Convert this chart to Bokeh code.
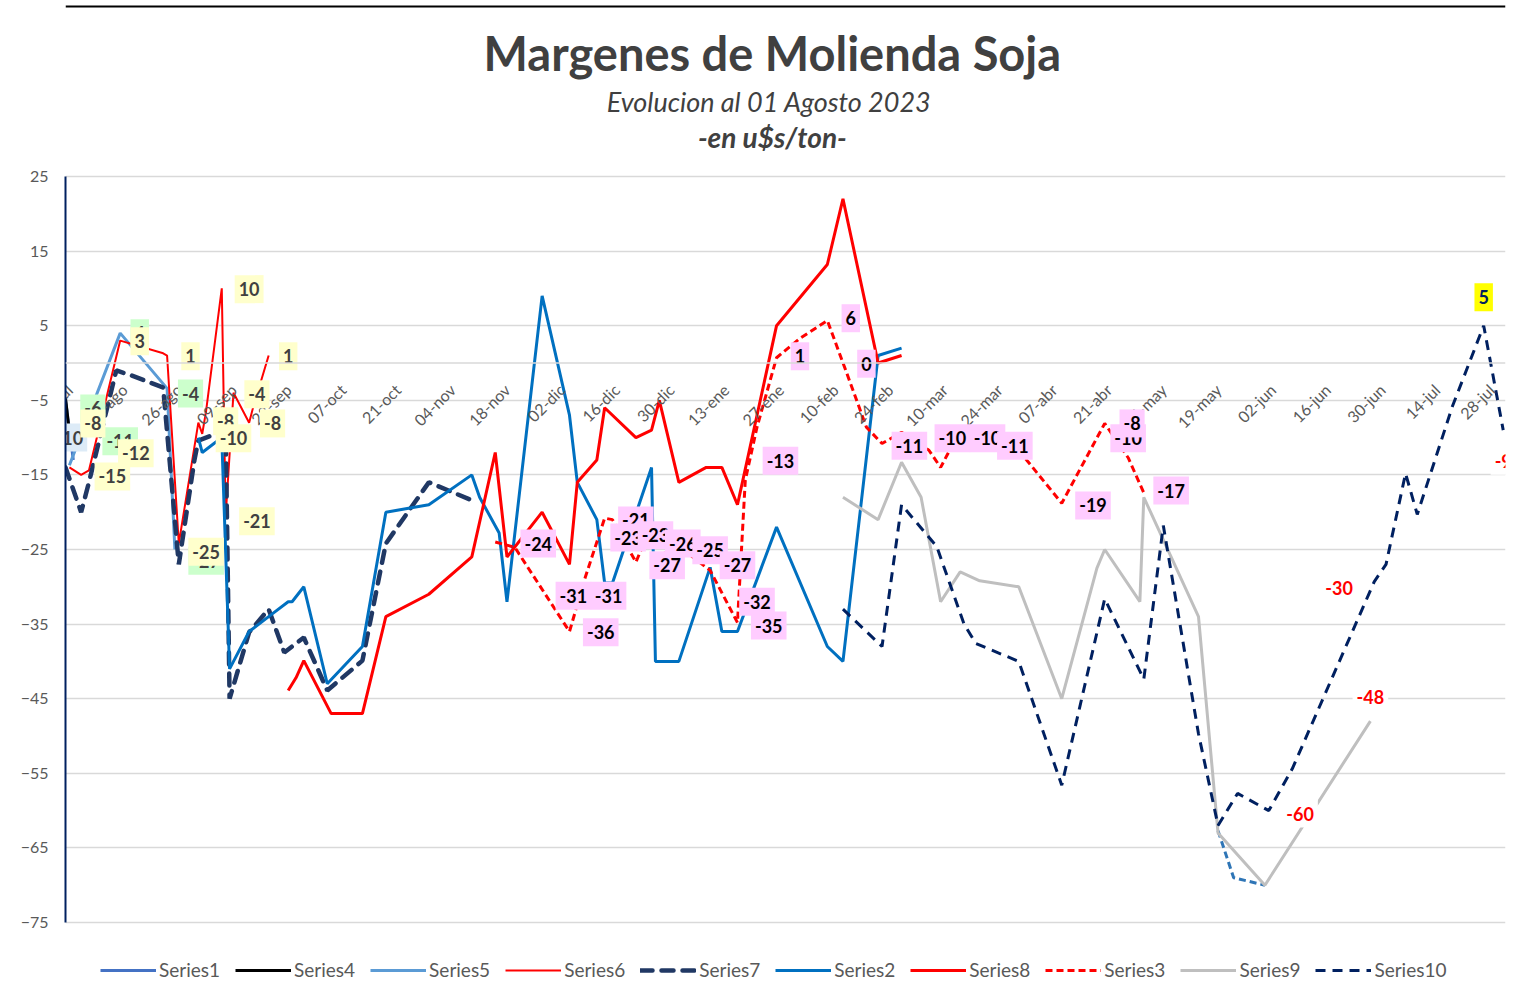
import math
import datetime as dt
from bokeh.plotting import figure
from bokeh.models import ColumnDataSource, FixedTicker, Legend, LegendItem, Span
from bokeh.core.properties import value
from bokeh.embed import file_html
from bokeh.resources import INLINE

FONT = "Lato"

# ---------------- data ----------------
title_text = ["Margenes de Molienda Soja", "Evolucion  al 01 Agosto 2023", "-en u$s/ton-"]

tick_dates = ["2022-07-29", "2022-08-12", "2022-08-26", "2022-09-09", "2022-09-23", "2022-10-07",
              "2022-10-21", "2022-11-04", "2022-11-18", "2022-12-02", "2022-12-16", "2022-12-30",
              "2023-01-13", "2023-01-27", "2023-02-10", "2023-02-24", "2023-03-10", "2023-03-24",
              "2023-04-07", "2023-04-21", "2023-05-05", "2023-05-19", "2023-06-02", "2023-06-16",
              "2023-06-30", "2023-07-14", "2023-07-28"]
tick_labels = ["29-jul", "12-ago", "26-ago", "09-sep", "23-sep", "07-oct", "21-oct", "04-nov",
               "18-nov", "02-dic", "16-dic", "30-dic", "13-ene", "27-ene", "10-feb", "24-feb",
               "10-mar", "24-mar", "07-abr", "21-abr", "05-may", "19-may", "02-jun", "16-jun",
               "30-jun", "14-jul", "28-jul"]
y_ticks = [25, 15, 5, -5, -15, -25, -35, -45, -55, -65, -75]

s1_dates = ["2022-07-29", "2022-07-31"]
s1_vals = [-5.0, -13.0]

s4_dates = ["2022-07-29", "2022-07-30"]
s4_vals = [-4.7, -9.3]

s5_dates = ["2022-07-30", "2022-08-12", "2022-08-24", "2022-08-26"]
s5_vals = [-13.7, 4.0, -3.4, -25.0]

s6_dates = ["2022-07-30", "2022-08-02", "2022-08-04", "2022-08-12", "2022-08-23", "2022-08-24",
            "2022-08-27", "2022-09-01", "2022-09-02", "2022-09-03", "2022-09-07", "2022-09-08",
            "2022-09-10", "2022-09-14", "2022-09-15", "2022-09-19"]
s6_vals = [-14.0, -15.0, -14.4, 3.0, 1.3, 1.0, -24.2, -8.0, -9.5, -6.4, 10.0, -20.5,
           -4.0, -8.0, -6.0, 1.0]

s7_dates = ["2022-07-29", "2022-08-02", "2022-08-04", "2022-08-11", "2022-08-15", "2022-08-23",
            "2022-08-27", "2022-08-31", "2022-09-01", "2022-09-08", "2022-09-09", "2022-09-14",
            "2022-09-19", "2022-09-23", "2022-09-28", "2022-10-04", "2022-10-13", "2022-10-19",
            "2022-10-30", "2022-11-10"]
s7_vals = [-14.0, -20.0, -16.0, -1.0, -1.7, -3.3, -27.0, -13.0, -10.4, -9.0, -45.0, -36.1,
           -33.0, -38.8, -36.8, -43.9, -39.9, -24.2, -16.0, -18.4]

s2_dates = ["2022-09-01", "2022-09-02", "2022-09-05", "2022-09-07", "2022-09-09", "2022-09-14",
            "2022-09-20", "2022-09-24", "2022-09-25", "2022-09-28", "2022-10-04", "2022-10-13",
            "2022-10-19", "2022-10-30", "2022-11-10", "2022-11-12", "2022-11-17", "2022-11-19",
            "2022-11-28", "2022-12-05", "2022-12-07", "2022-12-12", "2022-12-14", "2022-12-16",
            "2022-12-26", "2022-12-27", "2023-01-02", "2023-01-10", "2023-01-13", "2023-01-17",
            "2023-01-27", "2023-02-09", "2023-02-13", "2023-02-22", "2023-02-28"]
s2_vals = [-10.0, -12.0, -10.8, -10.0, -41.0, -36.0, -33.6, -32.0, -32.0, -30.0, -43.0, -38.0,
           -20.0, -19.0, -15.0, -18.0, -22.8, -32.0, 9.0, -7.0, -16.0, -21.0, -29.5, -29.5,
           -14.0, -40.0, -40.0, -27.4, -36.0, -36.0, -22.0, -38.0, -40.0, 1.0, 2.0]

s2b_dates = ["2023-05-20", "2023-05-24", "2023-06-01"]
s2b_vals = [-62.7, -69.0, -70.0]

s8_dates = ["2022-09-24", "2022-09-26", "2022-09-28", "2022-10-05", "2022-10-13", "2022-10-19",
            "2022-10-30", "2022-11-10", "2022-11-16", "2022-11-19", "2022-11-28", "2022-12-05",
            "2022-12-07", "2022-12-12", "2022-12-14", "2022-12-22", "2022-12-26", "2022-12-28",
            "2023-01-02", "2023-01-09", "2023-01-13", "2023-01-17", "2023-01-27", "2023-02-09",
            "2023-02-13", "2023-02-22", "2023-02-28"]
s8_vals = [-43.9, -42.2, -39.9, -47.0, -47.0, -34.0, -31.0, -26.0, -12.0, -26.0, -20.0, -27.0,
           -16.0, -13.0, -6.0, -10.0, -9.0, -5.0, -16.0, -14.0, -14.0, -19.0, 5.0, 13.2,
           22.0, 0.0, 1.0]

s3_dates = ["2022-11-16", "2022-11-21", "2022-12-05", "2022-12-09", "2022-12-14", "2022-12-16",
            "2022-12-22", "2022-12-24", "2022-12-28", "2022-12-30", "2023-01-03", "2023-01-10",
            "2023-01-17", "2023-01-19", "2023-01-22", "2023-01-27", "2023-02-02", "2023-02-09",
            "2023-02-14", "2023-02-19", "2023-02-23", "2023-02-28", "2023-03-07", "2023-03-10",
            "2023-03-12", "2023-03-16", "2023-03-23", "2023-03-28", "2023-04-01", "2023-04-10",
            "2023-04-21", "2023-04-27", "2023-05-01"]
s3_vals = [-24.0, -24.7, -36.0, -28.8, -20.8, -21.0, -26.7, -24.2, -23.0, -27.0, -25.0, -27.8,
           -34.8, -15.7, -8.6, 0.7, 3.3, 5.7, -1.4, -8.6, -10.8, -9.3, -11.7, -14.0,
           -12.0, -9.7, -10.0, -11.0, -13.0, -18.8, -8.1, -12.7, -17.4]

s9_dates = ["2023-02-13", "2023-02-22", "2023-02-28", "2023-03-05", "2023-03-10", "2023-03-15",
            "2023-03-20", "2023-03-30", "2023-04-10", "2023-04-19", "2023-04-21", "2023-04-30",
            "2023-05-01", "2023-05-15", "2023-05-20", "2023-06-01", "2023-06-28"]
s9_vals = [-18.0, -21.0, -13.3, -18.0, -32.0, -28.0, -29.2, -30.0, -45.0, -27.5, -25.0, -32.0,
           -18.0, -34.0, -63.0, -70.0, -48.0]

s10_dates = ["2023-02-13", "2023-02-23", "2023-02-28", "2023-03-09", "2023-03-16", "2023-03-19",
             "2023-03-30", "2023-04-10", "2023-04-21", "2023-05-01", "2023-05-06", "2023-05-15",
             "2023-05-20", "2023-05-25", "2023-06-02", "2023-06-08", "2023-06-29", "2023-07-02",
             "2023-07-07", "2023-07-10", "2023-07-19", "2023-07-27", "2023-08-01"]
s10_vals = [-33.0, -38.0, -19.0, -24.6, -35.0, -37.6, -40.0, -56.6, -31.6, -42.4, -21.8, -49.7,
            -62.0, -57.7, -60.0, -54.4, -29.3, -27.0, -14.8, -20.3, -5.8, 5.0, -9.0]

# data labels (date, value, text)
pink_dates = ["2022-11-27", "2022-12-06", "2022-12-15", "2022-12-13", "2022-12-22", "2022-12-20",
              "2022-12-27", "2023-01-03", "2022-12-30", "2023-01-10", "2023-01-17", "2023-01-22",
              "2023-01-25", "2023-01-28", "2023-02-02", "2023-02-15", "2023-02-19", "2023-03-02",
              "2023-03-13", "2023-03-22", "2023-03-29", "2023-04-18", "2023-04-27", "2023-04-28",
              "2023-05-08"]
pink_vals = [-24.2, -31.2, -31.2, -36.1, -21.1, -23.4, -23.1, -24.2, -27.1, -25.1, -27.1, -32.0,
             -35.2, -13.1, 0.9, 6.0, -0.1, -11.1, -10.1, -10.1, -11.1, -19.1, -10.1, -8.1, -17.1]
pink_text = ["-24", "-31", "-31", "-36", "-21", "-23", "-23", "-26", "-27", "-25", "-27", "-32",
             "-35", "-13", "1", "6", "0", "-11", "-10", "-10", "-11", "-19", "-10", "-8", "-17"]

green_dates = ["2022-08-05", "2022-08-12", "2022-08-17", "2022-08-30", "2022-09-03"]
green_vals = [-6.1, -10.5, 4.0, -4.1, -26.5]
green_text = ["-6", "-11", "4", "-4", "-27"]

yellow_dates = ["2022-08-05", "2022-08-10", "2022-08-16", "2022-08-17", "2022-08-30", "2022-09-03",
                "2022-09-08", "2022-09-10", "2022-09-14", "2022-09-16", "2022-09-16", "2022-09-20",
                "2022-09-24"]
yellow_vals = [-8.1, -15.2, -12.1, 2.9, 0.9, -25.3, -7.8, -10.1, 9.9, -21.2, -4.2, -8.1, 0.9]
yellow_text = ["-8", "-15", "-12", "3", "1", "-25", "-8", "-10", "10", "-21", "-4", "-8", "1"]

lblue_dates = ["2022-07-23", "2022-07-23", "2022-07-30"]
lblue_vals = [-5.3, -10.0, -10.0]
lblue_text = ["-5", "-1", "-10"]

red_dates = ["2023-06-20", "2023-06-28", "2023-06-10", "2023-08-01"]
red_vals = [-30.2, -44.8, -60.4, -13.1]
red_text = ["-30", "-48", "-60", "-9"]

hi_dates = ["2023-07-27"]
hi_vals = [8.8]
hi_text = ["5"]


def D(lst):
    return [dt.datetime.strptime(s, "%Y-%m-%d") for s in lst]


# ---------------- figure ----------------
# 7.46 px per unit; the frame runs from the canvas top (0) to 996, so 25 sits at 176
# and -75 at 922.  The title block lives in the empty band above 25.
X0, X1 = dt.datetime(2022, 7, 29), dt.datetime(2023, 8, 1, 14)
Y0, Y1 = -84.92, 48.59
p = figure(width=1514, height=996, x_axis_type="datetime", output_backend="svg",
           toolbar_location=None, x_range=(X0, X1), y_range=(Y0, Y1),
           min_border_left=65, min_border_right=9, min_border_top=0, min_border_bottom=0)
p.outline_line_color = None
p.background_fill_color = "white"
p.border_fill_color = "white"

# top edge of the chart area
p.add_layout(Span(location=47.8, dimension="width", line_color="black", line_width=2))

# titles
xc = dt.datetime(2023, 1, 25, 22)
p.text(x=[xc], y=[41.5], text=[title_text[0]], text_align="center", text_baseline="middle",
       text_font=value(FONT), text_font_size="47px", text_font_style="bold",
       text_color="#404040")
p.text(x=[xc], y=[35.0], text=[title_text[1]], text_align="center", text_baseline="middle",
       text_font=value(FONT), text_font_size="27px", text_font_style="italic",
       text_color="#404040")
p.text(x=[xc], y=[30.3], text=[title_text[2]], text_align="center", text_baseline="middle",
       text_font=value(FONT), text_font_size="28px", text_font_style="bold italic",
       text_color="#404040")

# axes
p.yaxis.ticker = FixedTicker(ticks=y_ticks)
p.yaxis.bounds = (min(y_ticks), max(y_ticks))
p.ygrid.ticker = FixedTicker(ticks=y_ticks)
p.ygrid.grid_line_color = "#D9D9D9"
p.ygrid.grid_line_width = 1.5
p.xgrid.visible = False
p.yaxis.axis_line_color = "#002060"
p.yaxis.axis_line_width = 2
p.yaxis.major_tick_line_color = None
p.yaxis.minor_tick_line_color = None
p.yaxis.major_tick_out = 0
p.yaxis.major_label_standoff = 17
p.yaxis.major_label_text_font = FONT
p.yaxis.major_label_text_font_size = "16px"
p.yaxis.major_label_text_color = "#595959"
p.xaxis.visible = False

p.add_layout(Span(location=0, dimension="width", line_color="#D9D9D9", line_width=1.5))

# ---------------- series ----------------
r1 = p.line(D(s1_dates), s1_vals, line_color="#4472C4", line_width=3)
r4 = p.line(D(s4_dates), s4_vals, line_color="#000000", line_width=3)
r5 = p.line(D(s5_dates), s5_vals, line_color="#5B9BD5", line_width=3)
r6 = p.line(D(s6_dates), s6_vals, line_color="#FF0000", line_width=2)
r7 = p.line(D(s7_dates), s7_vals, line_color="#203864", line_width=4.5, line_dash="12 9",
            line_cap="round")
r2 = p.line(D(s2_dates), s2_vals, line_color="#0070C0", line_width=3)
p.line(D(s2b_dates), s2b_vals, line_color="#2E75B6", line_width=3, line_dash="7 4")
r8 = p.line(D(s8_dates), s8_vals, line_color="#FF0000", line_width=3)
r3 = p.line(D(s3_dates), s3_vals, line_color="#FF0000", line_width=3, line_dash="7 4")
r9 = p.line(D(s9_dates), s9_vals, line_color="#BFBFBF", line_width=3)
r10 = p.line(D(s10_dates), s10_vals, line_color="#002060", line_width=3, line_dash="10 7")

# ---------------- x tick labels (drawn at the horizontal axis) ----------------
tsrc = ColumnDataSource(dict(x=D(tick_dates), y=[-3.2] * len(tick_dates), t=tick_labels))
p.text(x="x", y="y", text="t", source=tsrc, angle=math.pi / 4, text_align="right",
       text_baseline="middle", x_offset=4, text_font=value(FONT), text_font_size="16px",
       text_color="#595959")


# ---------------- data labels ----------------
def labels(dates, vals, texts, bg, color):
    src = ColumnDataSource(dict(x=D(dates), y=vals, t=texts))
    p.text(x="x", y="y", text="t", source=src, text_align="center", text_baseline="middle",
           text_font=value(FONT), text_font_size="18px", text_font_style="bold",
           text_color=color, background_fill_color=bg, padding=(4, 7))


labels(lblue_dates, lblue_vals, lblue_text, "#DDEBF7", "#404040")
labels(green_dates, green_vals, green_text, "#CCFFCC", "#404040")
labels(yellow_dates, yellow_vals, yellow_text, "#FFFFCC", "#404040")
labels(pink_dates, pink_vals, pink_text, "#FFCCFF", "#000000")
labels(red_dates, red_vals, red_text, "#FFFFFF", "#FF0000")
labels(hi_dates, hi_vals, hi_text, "#FFFF00", "#002060")

# ---------------- legend (inside the lower strip of the frame) ----------------
legend = Legend(items=[LegendItem(label="Series1", renderers=[r1]),
                       LegendItem(label="Series4", renderers=[r4]),
                       LegendItem(label="Series5", renderers=[r5]),
                       LegendItem(label="Series6", renderers=[r6]),
                       LegendItem(label="Series7", renderers=[r7]),
                       LegendItem(label="Series2", renderers=[r2]),
                       LegendItem(label="Series8", renderers=[r8]),
                       LegendItem(label="Series3", renderers=[r3]),
                       LegendItem(label="Series9", renderers=[r9]),
                       LegendItem(label="Series10", renderers=[r10])],
                orientation="horizontal", location=(35, 15), margin=0, padding=0,
                spacing=15, glyph_width=56, glyph_height=20, label_standoff=3,
                label_text_font=FONT, label_text_font_size="19px", label_text_color="#595959",
                border_line_color=None, background_fill_alpha=0)
p.add_layout(legend)

open("out.html", "w").write(file_html(p, INLINE))
